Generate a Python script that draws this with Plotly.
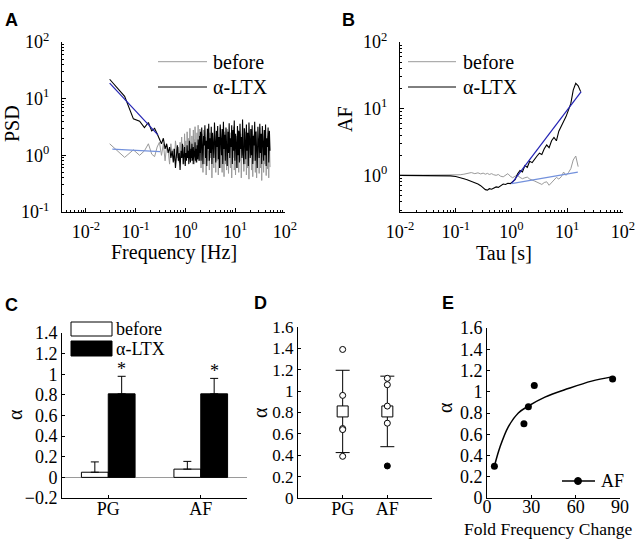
import numpy as np
import plotly.graph_objects as go

W, H = 638, 545
SERIF = "Liberation Serif"
SANS = "Liberation Sans"

# ---------------- Panel A: PSD ----------------
psd_freq_low = [round(0.03 * k, 2) for k in range(1, 67)]
psd_black_low = [22, 11, 4.4, 4.0, 3.1, 3.8, 2.7, 3.0, 2.4, 1.9,
                 1.6, 2.0, 1.3, 1.6, 1.1, 1.4, 0.9, 1.2, 0.75, 1.3,
                 0.6, 1.0, 1.5, 0.8, 1.1, 0.55, 1.2, 0.9, 1.6, 0.7,
                 1.0, 1.4, 0.65, 1.1, 0.8, 1.5, 0.9, 1.2, 0.7, 1.8,
                 1.0, 0.75, 1.3, 0.9, 1.6, 0.8, 1.1, 1.4, 0.7, 1.2,
                 0.95, 1.7, 0.8, 1.3, 1.0, 0.75, 1.5, 1.1, 0.85, 1.9,
                 1.0, 1.4, 0.8, 2.2, 1.1, 1.6]
psd_gray_low = [1.6, 0.92, 1.25, 1.0, 1.2, 1.6, 1.05, 0.95, 1.4, 1.7,
                1.0, 1.6, 0.8, 1.5, 1.2, 0.7, 1.6, 1.0, 1.3, 0.8,
                1.8, 1.1, 0.9, 1.4, 0.75, 1.7, 1.2, 2.1, 0.9, 1.5,
                0.7, 2.4, 1.1, 1.8, 0.85, 2.6, 1.3, 0.9, 2.0, 1.2,
                3.0, 1.0, 1.7, 0.8, 2.2, 1.4, 0.7, 2.8, 1.1, 1.9,
                0.9, 3.2, 1.3, 0.75, 2.1, 1.0, 2.5, 0.85, 1.6, 3.4,
                1.2, 0.8, 2.3, 1.1, 2.9, 0.9]
psd_freq_high = list(np.geomspace(2.0, 50.0, 110))
psd_black_high = [2.6, 0.8, 3.1, 1.2, 0.7, 2.2, 1.5, 3.4, 0.9, 1.8,
                  0.65, 2.9, 1.3, 3.6, 0.8, 2.0, 1.1, 3.2, 0.7, 2.5,
                  1.6, 0.9, 3.8, 1.2, 0.75, 2.7, 1.4, 3.3, 0.85, 2.1,
                  0.6, 3.5, 1.7, 1.0, 2.9, 0.7, 3.9, 1.3, 2.3, 0.8,
                  3.1, 1.5, 0.65, 2.6, 1.1, 3.7, 0.9, 2.0, 1.4, 3.4,
                  0.7, 2.8, 1.2, 4.1, 0.8, 2.4, 1.6, 0.6, 3.3, 1.0,
                  2.7, 0.75, 3.6, 1.3, 2.1, 0.9, 4.3, 1.1, 0.7, 3.0,
                  1.8, 0.85, 3.5, 1.2, 2.5, 0.65, 3.8, 1.4, 0.9, 2.9,
                  1.0, 3.4, 0.7, 2.2, 1.5, 3.9, 0.8, 2.6, 1.2, 0.6,
                  3.2, 1.7, 0.9, 3.6, 1.1, 2.4, 0.7, 3.3, 1.3, 0.8,
                  2.8, 1.0, 3.5, 0.65, 2.0, 1.4, 3.1, 0.75, 2.7, 1.2]
psd_gray_high = [1.9, 0.6, 2.4, 1.0, 0.5, 2.8, 1.3, 0.7, 2.1, 0.45,
                 1.6, 3.0, 0.8, 1.2, 0.55, 2.5, 0.9, 1.7, 0.4, 2.2,
                 1.1, 0.6, 2.7, 1.4, 0.5, 1.9, 0.8, 2.4, 0.45, 1.5,
                 1.0, 3.1, 0.6, 1.8, 0.5, 2.3, 1.2, 0.42, 2.6, 0.7,
                 1.6, 0.55, 2.9, 1.0, 0.48, 2.0, 1.3, 0.6, 2.5, 0.4,
                 1.7, 0.9, 3.2, 0.55, 1.4, 0.45, 2.2, 1.1, 0.6, 2.8,
                 0.5, 1.9, 0.8, 2.4, 0.4, 1.5, 1.0, 3.0, 0.52, 1.8,
                 0.7, 2.6, 0.45, 1.3, 0.6, 2.1, 0.38, 1.6, 1.0, 2.9,
                 0.55, 1.2, 0.42, 2.3, 0.8, 1.7, 0.5, 2.7, 0.4, 1.4,
                 0.9, 2.0, 0.48, 3.1, 0.6, 1.5, 0.36, 2.4, 1.1, 0.5,
                 1.8, 0.7, 2.6, 0.44, 1.3, 0.58, 2.2, 0.4, 1.9, 0.62]
psd_fit_ltx_f = [0.03, 0.28]
psd_fit_ltx_y = [18.8, 2.3]
psd_fit_before_f = [0.034, 0.31]
psd_fit_before_y = [1.29, 1.16]

# ---------------- Panel B: Allan factor ----------------
tau = [0.01, 0.015, 0.02, 0.03, 0.04, 0.05, 0.06, 0.07, 0.08, 0.1,
       0.12, 0.14, 0.16, 0.19, 0.22, 0.25, 0.28, 0.31, 0.34, 0.37,
       0.40, 0.44, 0.48, 0.53, 0.58, 0.64, 0.71, 0.78, 0.86, 0.95,
       1.05, 1.16, 1.28, 1.42, 1.57, 1.74, 1.92, 2.12, 2.35, 2.6,
       2.87, 3.17, 3.5, 3.87, 4.28, 4.73, 5.23, 5.78, 6.39, 7.06,
       7.8, 8.6, 9.5, 10.5, 11.6, 12.8, 14.2, 15.7, 17.4]
af_ltx = [1.00, 1.00, 0.99, 1.00, 0.99, 1.00, 0.99, 0.98, 0.98, 0.96,
          0.93, 0.89, 0.86, 0.82, 0.77, 0.74, 0.70, 0.66, 0.61, 0.60,
          0.63, 0.62, 0.65, 0.67, 0.66, 0.70, 0.74, 0.73, 0.76, 0.75,
          0.80, 0.86, 1.05, 1.18, 1.12, 1.40, 1.32, 1.62, 1.55, 1.78,
          1.95, 2.15, 2.05, 2.50, 2.85, 2.60, 3.30, 3.70, 3.30, 4.60,
          5.40, 6.40, 7.60, 9.5, 12.0, 19.0, 24.0, 22.0, 18.0]
af_before = [1.0, 1.0, 1.01, 1.0, 1.0, 1.01, 1.0, 1.0, 1.01, 1.0,
             1.02, 1.04, 1.07, 1.10, 1.06, 1.09, 1.05, 1.08, 1.04, 1.07,
             1.03, 1.06, 1.02, 1.00, 1.03, 0.97, 0.95, 1.00, 1.06, 0.97,
             0.92, 0.97, 1.00, 0.93, 0.89, 0.92, 0.94, 0.88, 0.86, 0.82,
             0.79, 0.76, 0.73, 0.78, 0.80, 0.71, 0.78, 0.85, 0.93, 0.88,
             0.95, 1.12, 1.00, 1.10, 1.26, 1.70, 1.95, 1.35]
af_fit_ltx_t = [1.0, 17.8]
af_fit_ltx_y = [0.75, 18.0]
af_fit_before_t = [1.0, 15.5]
af_fit_before_y = [0.75, 1.12]

# ---------------- Panel C: bars ----------------
groups = ["PG", "AF"]
alpha_before = [0.05, 0.08]
alpha_before_err = [0.10, 0.075]
alpha_ltx = [0.81, 0.81]
alpha_ltx_err = [0.17, 0.15]

# ---------------- Panel D: individual values ----------------
pg_values = [1.39, 0.96, 0.65, 0.64, 0.39]
af_open_values = [1.12, 1.06, 0.86, 0.70]
af_filled_values = [0.30]
group_mean = [0.81, 0.81]
group_sd = [0.385, 0.33]

# ---------------- Panel E: fold change ----------------
fold_change = [5, 25, 28, 32, 85]
alpha_af = [0.30, 0.70, 0.86, 1.06, 1.12]
fit_x = [5.4, 8.8, 14.4, 21.2, 28, 39.2, 55, 70.8, 84.4]
fit_y = [0.32, 0.48, 0.67, 0.80, 0.866, 0.95, 1.03, 1.10, 1.14]

GRAY = "#9a9a9a"
DBLUE = "#2323b4"
LBLUE = "#7391dc"


def fx(x):
    return x / W


def fy(y):
    return 1 - y / H


fig = go.Figure()

# A
fig.add_trace(go.Scatter(x=psd_freq_low + psd_freq_high, y=psd_gray_low + psd_gray_high,
                         mode="lines", line=dict(color=GRAY, width=1), xaxis="x", yaxis="y"))
fig.add_trace(go.Scatter(x=psd_freq_low + psd_freq_high, y=psd_black_low + psd_black_high,
                         mode="lines", line=dict(color="black", width=1.1), xaxis="x", yaxis="y"))
fig.add_trace(go.Scatter(x=psd_fit_ltx_f, y=psd_fit_ltx_y, mode="lines",
                         line=dict(color=DBLUE, width=1.2), xaxis="x", yaxis="y"))
fig.add_trace(go.Scatter(x=psd_fit_before_f, y=psd_fit_before_y, mode="lines",
                         line=dict(color=LBLUE, width=1.2), xaxis="x", yaxis="y"))

# B
fig.add_trace(go.Scatter(x=tau[:len(af_before)], y=af_before, mode="lines",
                         line=dict(color=GRAY, width=1), xaxis="x2", yaxis="y2"))
fig.add_trace(go.Scatter(x=tau, y=af_ltx, mode="lines",
                         line=dict(color="black", width=1.1), xaxis="x2", yaxis="y2"))
fig.add_trace(go.Scatter(x=af_fit_ltx_t, y=af_fit_ltx_y, mode="lines",
                         line=dict(color=DBLUE, width=1.2), xaxis="x2", yaxis="y2"))
fig.add_trace(go.Scatter(x=af_fit_before_t, y=af_fit_before_y, mode="lines",
                         line=dict(color=LBLUE, width=1.2), xaxis="x2", yaxis="y2"))

# C
fig.add_trace(go.Bar(x=groups, y=alpha_before, marker=dict(color="white", line=dict(color="black", width=1)),
                     error_y=dict(type="data", symmetric=False, array=alpha_before_err,
                                  arrayminus=[0, 0], color="black", thickness=1, width=4),
                     xaxis="x3", yaxis="y3"))
fig.add_trace(go.Bar(x=groups, y=alpha_ltx, marker=dict(color="black", line=dict(color="black", width=1)),
                     error_y=dict(type="data", symmetric=False, array=alpha_ltx_err,
                                  arrayminus=[0, 0], color="black", thickness=1, width=4),
                     xaxis="x3", yaxis="y3"))

# D
fig.add_trace(go.Scatter(x=groups, y=group_mean, mode="markers",
                         marker=dict(symbol="square", size=11, color="white",
                                     line=dict(color="black", width=1)),
                         error_y=dict(type="data", array=group_sd, color="black", thickness=1, width=7),
                         xaxis="x4", yaxis="y4"))
fig.add_trace(go.Scatter(x=["PG"] * len(pg_values), y=pg_values, mode="markers",
                         marker=dict(symbol="circle", size=6, color="white",
                                     line=dict(color="black", width=1)),
                         xaxis="x4", yaxis="y4"))
fig.add_trace(go.Scatter(x=["AF"] * len(af_open_values), y=af_open_values, mode="markers",
                         marker=dict(symbol="circle", size=6, color="white",
                                     line=dict(color="black", width=1)),
                         xaxis="x4", yaxis="y4"))
fig.add_trace(go.Scatter(x=["AF"] * len(af_filled_values), y=af_filled_values, mode="markers",
                         marker=dict(symbol="circle", size=6, color="black",
                                     line=dict(color="black", width=1)),
                         xaxis="x4", yaxis="y4"))

# E
fig.add_trace(go.Scatter(x=fit_x, y=fit_y, mode="lines", line=dict(color="black", width=1.5, shape="spline"),
                         xaxis="x5", yaxis="y5"))
fig.add_trace(go.Scatter(x=fold_change, y=alpha_af, mode="markers",
                         marker=dict(color="black", size=7), xaxis="x5", yaxis="y5"))

base = dict(showline=True, linecolor="black", linewidth=1, ticks="inside", ticklen=4,
            tickcolor="black", showgrid=False, zeroline=False, mirror=False, automargin=False,
            tickfont=dict(family=SERIF, size=18, color="black"))

minor_vals = [k * 10.0 ** d for d in range(-3, 2) for k in range(2, 10)]
logminor = dict(ticks="inside", ticklen=2, tickcolor="black", tickvals=minor_vals, showgrid=False)


def sup(p):
    return "10<sup>%d</sup>" % p


ax_a_x = dict(base, type="log", range=[-2.48, 2], tickvals=[0.01, 0.1, 1, 10, 100],
              ticktext=[sup(p) for p in range(-2, 3)], minor=logminor,
              domain=[fx(62), fx(285)], anchor="y", ticklabelstandoff=3)
ax_a_y = dict(base, type="log", range=[-1, 2], tickvals=[0.1, 1, 10, 100],
              ticktext=[sup(p) for p in range(-1, 3)], minor=logminor,
              domain=[fy(212), fy(42)], anchor="x", ticklabelstandoff=8)
ax_b_x = dict(base, type="log", range=[-2, 2], tickvals=[0.01, 0.1, 1, 10, 100],
              ticktext=[sup(p) for p in range(-2, 3)], minor=logminor,
              domain=[fx(400), fx(623)], anchor="y2", ticklabelstandoff=3)
ax_b_y = dict(base, type="log", range=[-0.55, 2], tickvals=[1, 10, 100],
              ticktext=[sup(p) for p in range(0, 3)], minor=logminor,
              domain=[fy(212), fy(42)], anchor="x2", ticklabelstandoff=8)

ax_c_x = dict(base, type="category", range=[-0.5, 1.5], ticklen=3,
              domain=[fx(62), fx(247)], anchor="y3", ticklabelstandoff=-6)
ax_c_y = dict(base, range=[-0.2, 1.4], tick0=0, dtick=0.2, ticklen=3,
              zeroline=True, zerolinecolor=GRAY, zerolinewidth=1,
              domain=[fy(498), fy(333)], anchor="x3")
ax_d_x = dict(base, type="category", range=[-1, 2], ticklen=3,
              domain=[fx(298), fx(432)], anchor="y4", ticklabelstandoff=-6)
ax_d_y = dict(base, range=[0, 1.6], tick0=0, dtick=0.2, ticklen=3,
              domain=[fy(498), fy(327)], anchor="x4", tickfont=dict(family=SERIF, size=17, color="black"))
ax_e_x = dict(base, range=[0, 90], tickvals=[0, 30, 60, 90], ticklen=3,
              domain=[fx(487), fx(620)], anchor="y5", ticklabelstandoff=-8)
ax_e_y = dict(base, range=[0, 1.6], tick0=0, dtick=0.2, ticklen=3,
              domain=[fy(498), fy(328)], anchor="x5")

shapes = []
annotations = []


def label(text, x, y, size=20, angle=0, family=SERIF, xanchor="center"):
    annotations.append(dict(text=text, xref="paper", yref="paper", x=fx(x), y=fy(y),
                            xanchor=xanchor, yanchor="middle", showarrow=False, textangle=angle,
                            font=dict(family=family, size=size, color="black")))


# axis titles
label("Frequency [Hz]", 173.5, 253)
label("PSD", 12, 124, angle=-90)
label("Tau [s]", 504, 253)
label("AF", 345, 119, angle=-90)
label("α", 15, 415, angle=-90)
label("α", 260, 413, angle=-90)
label("α", 445, 408, angle=-90)
label("Fold Frequency Change", 548, 529, size=17.5)

# legends A & B
for x0, x1, tx in [(158, 207, 211), (408, 456, 461)]:
    shapes.append(dict(type="line", xref="paper", yref="paper", x0=fx(x0), x1=fx(x1),
                       y0=fy(61.7), y1=fy(61.7), line=dict(color=GRAY, width=1)))
    shapes.append(dict(type="line", xref="paper", yref="paper", x0=fx(x0), x1=fx(x1),
                       y0=fy(87), y1=fy(87), line=dict(color="black", width=1)))
    label("before", tx, 61.7, xanchor="left")
    label("α-LTX", tx, 87, xanchor="left")

# legend C
shapes.append(dict(type="rect", xref="paper", yref="paper", x0=fx(71), x1=fx(112),
                   y0=fy(336), y1=fy(322), fillcolor="white", line=dict(color="black", width=1)))
shapes.append(dict(type="rect", xref="paper", yref="paper", x0=fx(71), x1=fx(112),
                   y0=fy(356), y1=fy(341), fillcolor="black", line=dict(color="black", width=1)))
label("before", 114, 329, size=18, xanchor="left")
label("α-LTX", 114, 348.5, size=18, xanchor="left")

# asterisks C
for g, v, e in zip(groups, alpha_ltx, alpha_ltx_err):
    annotations.append(dict(text="*", xref="x3", yref="y3", x=g, y=v + e, xshift=13.4, yshift=-5,
                            xanchor="center", yanchor="bottom", showarrow=False,
                            font=dict(family=SERIF, size=18, color="black")))

# legend E
shapes.append(dict(type="line", xref="paper", yref="paper", x0=fx(562), x1=fx(595),
                   y0=fy(481), y1=fy(481), line=dict(color="black", width=1.5)))
shapes.append(dict(type="circle", xref="paper", yref="paper", x0=fx(574.5), x1=fx(581.5),
                   y0=fy(484.5), y1=fy(477.5), fillcolor="black", line=dict(color="black", width=1)))
label("AF", 599, 481, size=18, xanchor="left")

# panel letters
for letter, x, y in [("A", 3, 8), ("B", 340, 8), ("C", 3, 293), ("D", 252, 291), ("E", 440, 291)]:
    annotations.append(dict(text="<b>%s</b>" % letter, xref="paper", yref="paper", x=fx(x), y=fy(y),
                            xanchor="left", yanchor="top", showarrow=False,
                            font=dict(family=SANS, size=18, color="black")))

fig.update_layout(
    template="none",
    width=W, height=H, margin=dict(l=0, r=0, t=0, b=0, pad=0),
    paper_bgcolor="white", plot_bgcolor="white", showlegend=False,
    barmode="group", bargap=0.42, bargroupgap=0,
    font=dict(family=SERIF, size=18, color="black"),
    xaxis=ax_a_x, yaxis=ax_a_y, xaxis2=ax_b_x, yaxis2=ax_b_y,
    xaxis3=ax_c_x, yaxis3=ax_c_y, xaxis4=ax_d_x, yaxis4=ax_d_y,
    xaxis5=ax_e_x, yaxis5=ax_e_y,
    shapes=shapes, annotations=annotations,
)

fig.write_html("out.html", config={"displayModeBar": False, "staticPlot": True},
               post_script="document.body.style.margin='0';document.body.style.padding='0';"
                           "document.body.style.overflow='hidden';")
